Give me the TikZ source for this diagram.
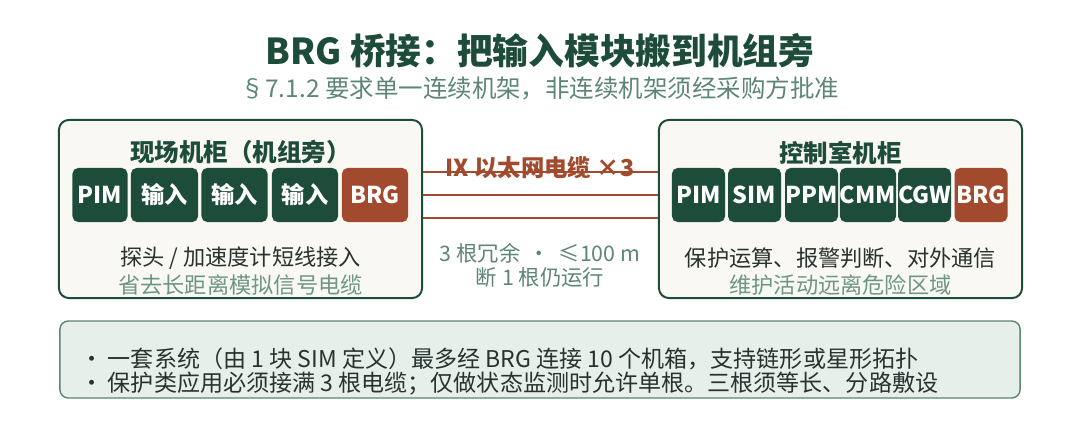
\documentclass[tikz,border=0pt]{standalone}
\usepackage{fontspec}
\setmainfont{Noto Sans CJK SC}
\definecolor{pine}{HTML}{1D4C3B}
\definecolor{rust}{HTML}{A24A2E}
\definecolor{cream}{HTML}{F9F8F3}
\definecolor{sage}{HTML}{6E9686}
\definecolor{subgreen}{HTML}{5D8676}
\definecolor{ink}{HTML}{28322E}
\definecolor{mint}{HTML}{E7EFEA}
\definecolor{mintline}{HTML}{5B8575}
\tikzset{
  cabinet/.style={draw=pine, line width=1.4pt, fill=cream, rounded corners=7pt,
    minimum width=9.075cm, minimum height=4.45cm, inner sep=0pt},
  modbox/.style={fill=pine, text=white, rounded corners=4pt, minimum height=1.35cm,
    inner sep=0pt, font=\bfseries\fontsize{16.5}{16.5}\selectfont},
  brgbox/.style={modbox, fill=rust},
  cabtitle/.style={text=pine, font=\bfseries\fontsize{17.4}{17.4}\selectfont},
  cabtext/.style={text=ink, font=\fontsize{15.8}{15.8}\selectfont},
  cabnote/.style={text=sage, font=\fontsize{15.8}{15.8}\selectfont},
  cable/.style={draw=rust, line width=1.3pt},
  noteline/.style={anchor=west, inner sep=0pt, text=ink, font=\fontsize{16.4}{16.4}\selectfont}
}
\begin{document}
\begin{tikzpicture}[x=0.025cm, y=0.025cm]
    \useasboundingbox[fill=white] (0,0) rectangle (1080,428);

    \node[text=pine, font=\bfseries\fontsize{25.4}{25.4}\selectfont] (title) at (540,377) {BRG 桥接：把输入模块搬到机组旁};
    \node[text=subgreen, font=\fontsize{17.4}{17.4}\selectfont] (subtitle) at (540,340) {§7.1.2 要求单一连续机架，非连续机架须经采购方批准};

    \node[cabinet] (lcab) at (240.5,219) {};
    \node[cabtitle] (ltitle) at (240.5,276) {现场机柜（机组旁）};
    \node[modbox, minimum width=1.375cm] (lpim) at (100,233) {PIM};
    \node[modbox, minimum width=1.675cm] (lin1) at (164.5,233) {输入};
    \node[modbox, minimum width=1.65cm] (lin2) at (234.5,233) {输入};
    \node[modbox, minimum width=1.65cm] (lin3) at (305,233) {输入};
    \node[brgbox, minimum width=1.65cm] (lbrg) at (375,233) {BRG};
    \node[cabtext] (ltext) at (240.5,170) {探头 / 加速度计短线接入};
    \node[cabnote] (lnote) at (240.5,143) {省去长距离模拟信号电缆};

    \node[cabinet] (rcab) at (840.5,219) {};
    \node[cabtitle] (rtitle) at (840.5,275) {控制室机柜};
    \node[modbox, minimum width=1.325cm] (rpim) at (698.5,233) {PIM};
    \node[modbox, minimum width=1.325cm] (rsim) at (754.5,233) {SIM};
    \node[modbox, minimum width=1.325cm] (rppm) at (811.5,233) {PPM};
    \node[modbox, minimum width=1.325cm] (rcmm) at (868,233) {CMM};
    \node[modbox, minimum width=1.325cm] (rcgw) at (924.5,233) {CGW};
    \node[brgbox, minimum width=1.325cm] (rbrg) at (981,233) {BRG};
    \node[cabtext] (rtext) at (840.5,170) {保护运算、报警判断、对外通信};
    \node[cabnote] (rnote) at (840.5,143) {维护活动远离危险区域};

    \node[text=rust, font=\bfseries\fontsize{16.6}{16.6}\selectfont] (cablelbl) at (540,260) {IX 以太网电缆 ×3};
    \coordinate (c1) at (540,256);
    \coordinate (c2) at (540,233);
    \coordinate (c3) at (540,210);
    \draw[cable] (lcab.east |- c1) -- (rcab.west |- c1);
    \draw[cable] (lcab.east |- c2) -- (rcab.west |- c2);
    \draw[cable] (lcab.east |- c3) -- (rcab.west |- c3);
    \node[text=subgreen, font=\fontsize{15.2}{15.2}\selectfont] (cablenote1) at (540,175) {3 根冗余 \,·\, ≤100 m};
    \node[text=subgreen, font=\fontsize{15.2}{15.2}\selectfont] (cablenote2) at (540,151) {断 1 根仍运行};

    \node[draw=mintline, line width=1pt, fill=mint, rounded corners=6pt, minimum width=24cm, minimum height=1.925cm] (rules) at (540,68.5) {};
    \node[noteline] (rule1) at (80,69) {·\hspace{0.2em}一套系统（由 1 块 SIM 定义）最多经 BRG 连接 10 个机箱，支持链形或星形拓扑};
    \node[noteline] (rule2) at (80,44) {·\hspace{0.2em}保护类应用必须接满 3 根电缆；仅做状态监测时允许单根。三根须等长、分路敷设};
\end{tikzpicture}
\end{document}
